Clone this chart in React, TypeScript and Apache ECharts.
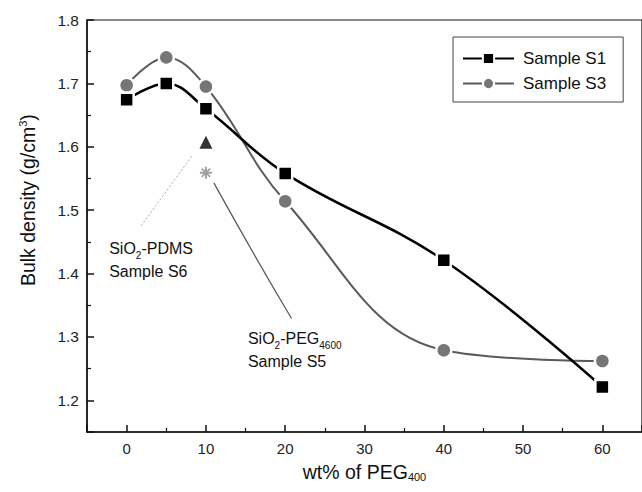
import React, { useEffect, useRef } from "react";
import * as echarts from "echarts";

const xValues = [0, 5, 10, 20, 40, 60];
const sampleS1 = [1.674, 1.7, 1.66, 1.558, 1.421, 1.221];
const sampleS3 = [1.697, 1.741, 1.695, 1.514, 1.279, 1.262];
const sampleS6 = [[10, 1.607]];
const sampleS5 = [[10, 1.559]];

const FONT = "'Liberation Sans', Arial, sans-serif";
const ASTERISK =
  "path://M-5,-0.8 H5 V0.8 H-5 Z M-0.8,-5 H0.8 V5 H-0.8 Z M-4,-3 L-3,-4 L4,3 L3,4 Z M-4,3 L3,-4 L4,-3 L-3,4 Z";

export default function App() {
  const ref = useRef<HTMLDivElement>(null);
  useEffect(() => {
    if (!ref.current) return;
    const chart = echarts.init(ref.current, null, { renderer: "svg" });
    const subRich = {
      sub: { fontSize: 11, fontFamily: FONT, fill: "#111", color: "#111", verticalAlign: "bottom", lineHeight: 13 },
    };
    chart.setOption({
      animation: false,
      backgroundColor: "#fff",
      textStyle: { fontFamily: FONT },
      grid: { left: 87, top: 20, width: 558, height: 412, show: true, borderColor: "#111", borderWidth: 1.2, backgroundColor: "transparent" },
      legend: {
        left: 453,
        top: 37,
        orient: "vertical",
        padding: [13, 17, 10, 9],
        itemGap: 8,
        itemWidth: 51,
        itemHeight: 14,
        borderColor: "#444",
        borderWidth: 1,
        textStyle: { fontSize: 17, color: "#111", fontFamily: FONT, padding: [0, 0, 0, 4] },
        data: ["Sample S1", "Sample S3"],
      },
      xAxis: {
        type: "value",
        min: -5,
        max: 65,
        splitNumber: 7,
        name: "wt% of PEG{sub|400}",
        nameLocation: "middle",
        nameGap: 28,
        nameTextStyle: { fontSize: 19.5, color: "#111", fontFamily: FONT, lineHeight: 22, rich: subRich },
        axisLine: { onZero: false, lineStyle: { color: "#111", width: 1.5 } },
        axisTick: { inside: true, length: 7, lineStyle: { color: "#111", width: 1.5 } },
        minorTick: { show: true, splitNumber: 2, length: 4, lineStyle: { color: "#111", width: 1.2 } },
        axisLabel: { fontSize: 15, color: "#222", margin: 9, showMinLabel: false, showMaxLabel: false, fontFamily: FONT },
        splitLine: { show: false },
      },
      yAxis: {
        type: "value",
        min: 1.15,
        max: 1.8,
        splitNumber: 7,
        axisLine: { onZero: false, lineStyle: { color: "#111", width: 1.5 } },
        axisTick: { inside: true, length: 7, lineStyle: { color: "#111", width: 1.5 } },
        minorTick: { show: true, splitNumber: 2, length: 4, lineStyle: { color: "#111", width: 1.2 } },
        axisLabel: {
          fontSize: 15.5,
          color: "#222",
          margin: 8,
          showMinLabel: false,
          fontFamily: FONT,
          formatter: (v: number) => v.toFixed(1),
        },
        splitLine: { show: false },
      },
      series: [
        {
          name: "Sample S1",
          type: "line",
          smooth: 0.4,
          data: xValues.map((x, i) => [x, sampleS1[i]]),
          symbol: "rect",
          symbolSize: 14,
          itemStyle: { color: "#000", borderColor: "#fff", borderWidth: 2.5 },
          lineStyle: { color: "#000", width: 2.5 },
          z: 3,
        },
        {
          name: "Sample S3",
          type: "line",
          smooth: 0.4,
          data: xValues.map((x, i) => [x, sampleS3[i]]),
          symbol: "circle",
          symbolSize: 15,
          itemStyle: { color: "#767676", borderColor: "#fff", borderWidth: 2.5 },
          lineStyle: { color: "#5a5a5a", width: 2 },
          z: 2,
        },
        {
          name: "SiO2-PDMS Sample S6",
          type: "scatter",
          data: sampleS6,
          symbol: "triangle",
          symbolSize: 13,
          itemStyle: { color: "#000" },
        },
        {
          name: "SiO2-PEG4600 Sample S5",
          type: "scatter",
          data: sampleS5,
          symbol: ASTERISK,
          symbolSize: 12,
          itemStyle: { color: "#8a8a8a" },
        },
      ],
    });

    const p = (x: number, y: number) => chart.convertToPixel({ gridIndex: 0 }, [x, y]) as number[];
    const s6a = p(8.2, 1.585);
    const s6b = p(1.7, 1.473);
    const s5a = p(11.0, 1.543);
    const s5b = p(20.8, 1.329);
    const s5mid = p(16.5, 1.43);
    const t6 = p(-2.2, 1.457);
    const t5 = p(15.3, 1.315);
    const yName = p(-12.3, 1.5);
    const annRich = {
      sub: { fontSize: 10, fontFamily: FONT, fill: "#111", verticalAlign: "bottom", lineHeight: 13 },
    };
    chart.setOption({
      graphic: [
        {
          type: "line",
          shape: { x1: s6a[0], y1: s6a[1], x2: s6b[0], y2: s6b[1] },
          style: { stroke: "#aaa", lineWidth: 1, lineDash: [2, 2] },
        },
        {
          type: "bezierCurve",
          shape: { x1: s5a[0], y1: s5a[1], cpx1: s5mid[0] - 4, cpy1: s5mid[1], x2: s5b[0], y2: s5b[1] },
          style: { stroke: "#555", lineWidth: 1.2, fill: null },
        },
        {
          type: "text",
          x: t6[0],
          y: t6[1],
          style: {
            text: "SiO{sub|2}-PDMS\nSample S6",
            fontSize: 16,
            fontFamily: FONT,
            fill: "#111",
            lineHeight: 23,
            rich: annRich,
          },
        },
        {
          type: "text",
          x: t5[0],
          y: t5[1],
          style: {
            text: "SiO{sub|2}-PEG{sub|4600}\nSample S5",
            fontSize: 16,
            fontFamily: FONT,
            fill: "#111",
            lineHeight: 23,
            rich: annRich,
          },
        },
        {
          type: "text",
          x: 28,
          y: yName[1] - 10,
          rotation: Math.PI / 2,
          style: {
            text: "Bulk density (g/cm{sup|3})",
            fontSize: 19.5,
            fontFamily: FONT,
            fill: "#111",
            align: "center",
            verticalAlign: "middle",
            lineHeight: 22,
            rich: {
              sup: { fontSize: 11, fontFamily: FONT, fill: "#111", verticalAlign: "top", lineHeight: 13 },
            },
          },
        },
      ],
    });
    return () => chart.dispose();
  }, []);
  return (
    <div
      ref={ref}
      style={{ position: "fixed", left: 0, top: 0, width: 642, height: 492, background: "#fff" }}
    />
  );
}
